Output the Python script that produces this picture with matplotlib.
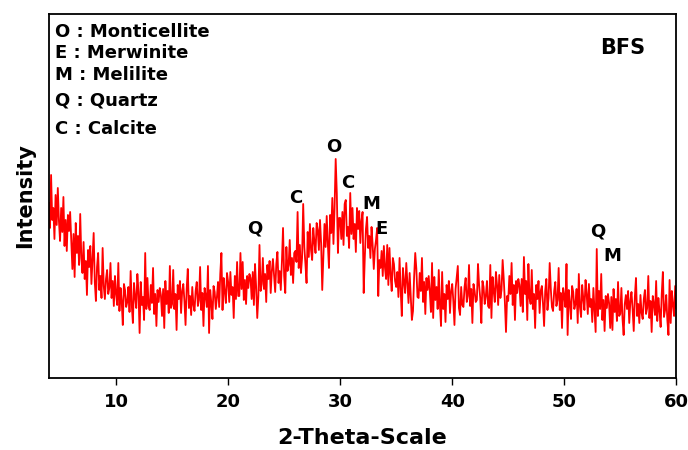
import numpy as np
import matplotlib.pyplot as plt

plt.rcParams['font.family'] = 'DejaVu Sans'
plt.rcParams['font.weight'] = 'bold'

# XRD scan of the slag sample, 4-60 deg 2-theta in 0.1 deg steps
two_theta_start = 4.0
two_theta_step = 0.1
counts = [
    175, 150, 203, 158, 170, 139, 183, 153, 190, 157,   # 4
    137, 170, 146, 181, 132, 158, 127, 163, 147, 166,   # 5
    137, 109, 144, 101, 155, 125, 142, 113, 164, 120,   # 6
    105, 136, 99, 117, 83, 128, 111, 132, 94, 120,      # 7
    145, 96, 77, 111, 125, 88, 102, 80, 130, 92,        # 8
    79, 99, 108, 84, 90, 115, 80, 97, 72, 102,          # 9
    84, 73, 115, 67, 90, 77, 53, 94, 88, 71,            # 10
    76, 91, 66, 107, 73, 55, 95, 81, 70, 104,           # 11
    86, 45, 96, 73, 81, 58, 125, 69, 100, 72,           # 12
    68, 93, 75, 110, 64, 84, 52, 88, 76, 90,            # 13
    83, 62, 89, 50, 97, 74, 87, 65, 112, 70,            # 14
    74, 108, 69, 84, 48, 93, 79, 97, 65, 87,            # 15
    94, 77, 53, 89, 109, 70, 82, 63, 91, 73,            # 16
    67, 87, 96, 72, 78, 111, 68, 85, 52, 90,            # 17
    82, 71, 112, 45, 88, 75, 59, 92, 86, 69,            # 18
    81, 96, 71, 104, 125, 68, 100, 86, 75, 105,         # 19
    96, 76, 106, 83, 91, 60, 102, 79, 116, 82,          # 20
    82, 125, 89, 116, 78, 98, 74, 102, 90, 104,         # 21
    100, 79, 106, 73, 114, 91, 60, 82, 133, 87,         # 22
    94, 120, 89, 104, 76, 113, 99, 117, 85, 107,        # 23
    119, 102, 86, 114, 126, 95, 107, 88, 116, 150,      # 24
    102, 85, 131, 107, 113, 138, 103, 120, 95, 125,     # 25
    127, 116, 166, 110, 133, 105, 120, 174, 131, 114,   # 26
    95, 146, 121, 154, 128, 118, 150, 136, 125, 155,    # 27
    148, 128, 158, 135, 88, 120, 154, 131, 162, 134,    # 28
    110, 163, 145, 180, 134, 170, 219, 185, 125, 160,   # 29
    160, 139, 166, 133, 174, 178, 142, 151, 130, 185,   # 30
    144, 170, 139, 154, 126, 170, 149, 167, 135, 157,   # 31
    166, 85, 121, 149, 161, 130, 142, 120, 151, 133,    # 32
    109, 129, 138, 150, 82, 118, 110, 127, 102, 132,    # 33
    110, 99, 133, 93, 130, 103, 87, 120, 114, 97,       # 34
    91, 106, 81, 120, 88, 62, 110, 96, 85, 115,         # 35
    95, 75, 105, 82, 58, 67, 101, 125, 109, 81,         # 36
    80, 105, 87, 120, 76, 96, 64, 100, 88, 102,         # 37
    87, 66, 115, 60, 101, 78, 91, 69, 108, 74,          # 38
    52, 106, 69, 84, 56, 93, 79, 97, 65, 87,            # 39
    94, 77, 53, 89, 101, 112, 70, 63, 91, 73,           # 40
    71, 91, 100, 76, 82, 113, 72, 89, 55, 94,           # 41
    87, 76, 78, 114, 93, 80, 55, 97, 91, 74,            # 42
    82, 97, 72, 70, 113, 60, 101, 87, 76, 106,          # 43
    93, 73, 103, 80, 88, 118, 99, 76, 46, 82,           # 44
    77, 102, 84, 115, 73, 93, 58, 97, 85, 99,           # 45
    93, 72, 99, 66, 121, 84, 97, 58, 114, 80,           # 46
    74, 108, 69, 84, 50, 93, 79, 97, 65, 87,            # 47
    92, 75, 52, 87, 99, 68, 80, 115, 89, 71,            # 48
    67, 87, 96, 72, 78, 110, 68, 85, 50, 90,            # 49
    82, 71, 114, 43, 88, 75, 59, 92, 86, 69,            # 50
    74, 89, 55, 104, 71, 61, 93, 79, 68, 98,            # 51
    84, 64, 94, 71, 79, 56, 90, 67, 46, 129,            # 52
    62, 87, 69, 104, 58, 78, 47, 82, 70, 84,            # 53
    75, 50, 81, 48, 89, 66, 79, 57, 96, 62,             # 54
    64, 90, 59, 43, 74, 83, 69, 87, 55, 77,             # 55
    86, 69, 47, 81, 100, 62, 74, 55, 83, 65,            # 56
    59, 79, 88, 64, 70, 102, 60, 77, 46, 82,            # 57
    74, 63, 97, 57, 80, 67, 51, 84, 106, 61,            # 58
    68, 83, 58, 43, 98, 55, 87, 73, 62, 92,             # 59
    70,                                                 # 60
]

# phase identification marks
peak_labels = ['Q', 'C', 'O', 'C', 'M', 'E', 'Q', 'M']
peak_2theta = [22.4, 26.0, 29.4, 30.7, 32.8, 33.7, 53.0, 54.3]
peak_text_y = [149, 180, 231, 195, 174, 149, 146, 122]

phase_key = ['O : Monticellite', 'E : Merwinite', 'M : Melilite',
             'Q : Quartz', 'C : Calcite']
sample_name = 'BFS'

two_theta = two_theta_start + two_theta_step * np.arange(len(counts))

fig = plt.figure(figsize=(6.88, 4.5), dpi=100)
ax = fig.add_axes([0.071, 0.16, 0.912, 0.809])

ax.plot(two_theta, counts, color='#ff0000', lw=1.3)

for lab, x, y in zip(peak_labels, peak_2theta, peak_text_y):
    ax.text(x, y, lab, ha='center', va='center', fontsize=13, fontweight='bold')

key_y = [0.951, 0.893, 0.832, 0.761, 0.684]
for s, y in zip(phase_key, key_y):
    ax.text(0.0096, y, s, transform=ax.transAxes, ha='left', va='center',
            fontsize=13, fontweight='bold')

ax.text(0.914, 0.907, sample_name, transform=ax.transAxes, ha='center',
        va='center', fontsize=15, fontweight='bold')

ax.set_xlim(4, 60)
ax.set_ylim(0, 364)
ax.set_xticks([10, 20, 30, 40, 50, 60])
ax.set_yticks([])
ax.tick_params(axis='x', direction='out', length=5, width=1, labelsize=13, pad=6)
for lbl in ax.get_xticklabels():
    lbl.set_fontweight('bold')
for sp in ax.spines.values():
    sp.set_linewidth(1.3)

ax.set_xlabel('2-Theta-Scale', fontsize=16, fontweight='bold', labelpad=12)
ax.set_ylabel('Intensity', fontsize=15, fontweight='bold', labelpad=10)

fig.savefig('out.png', dpi=100)
